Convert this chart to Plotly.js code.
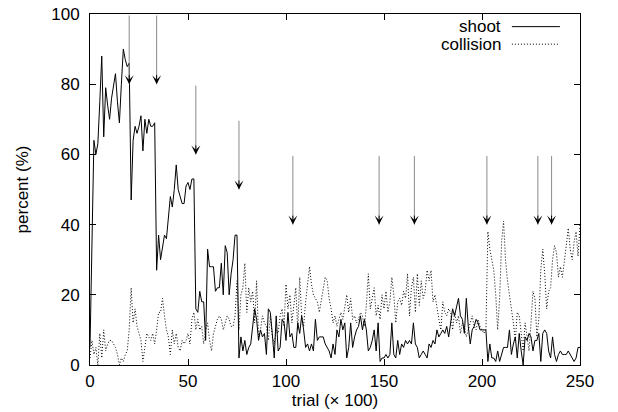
<!DOCTYPE html>
<html>
<head>
<meta charset="utf-8">
<script src="https://cdn.plot.ly/plotly-3.0.1.min.js"></script>
<style>html,body{margin:0;padding:0;background:#fff;}#chart{width:618px;height:412px;}</style>
</head>
<body>
<div id="chart"></div>
<script>
// trial index (x 100), one sample per 100 trials
var trialStart = 0;
var trialCount = 251;

var shoot = [
  5, 35, 64, 60, 63, 75, 88, 65, 79, 74,
  70, 76, 79, 83, 75, 69, 80, 90, 87, 85,
  86, 47, 64, 68, 66, 68, 71, 61, 70, 66,
  70, 68, 68, 69, 27, 37, 30, 33, 37, 36,
  42, 48, 45, 50, 57, 50, 48, 46, 46, 51,
  52, 50, 53, 53, 16, 15, 21, 18, 18, 7,
  33, 28, 28, 28, 21, 22, 22, 29, 20, 34,
  32, 20, 26, 30, 37, 37, 2, 8, 4, 7,
  3, 5, 6, 12, 16, 13, 7, 10, 8, 9,
  3, 16, 15, 9, 2, 14, 4, 5, 13, 12,
  7, 15, 8, 9, 5, 5, 12, 9, 14, 10,
  5, 6, 4, 6, 4, 13, 7, 8, 8, 8,
  6, 5, 4, 2, 6, 3, 10, 8, 13, 10,
  12, 2, 5, 12, 5, 8, 10, 11, 14, 10,
  13, 10, 4, 5, 7, 10, 4, 12, 1, 2,
  2, 3, 2, 3, 12, 3, 2, 7, 3, 6,
  5, 7, 6, 7, 6, 12, 6, 5, 2, 3,
  4, 3, 2, 6, 5, 7, 6, 10, 8, 9,
  10, 9, 11, 8, 12, 16, 14, 17, 19, 14,
  13, 9, 19, 11, 6, 10, 11, 13, 12, 10,
  10, 10, 10, 1, 6, 2, 2, 1, 4, 1,
  3, 5, 5, 5, 10, 3, 6, 8, 2, 9,
  4, 0, 8, 7, 9, 8, 4, 7, 7, 9,
  1, 9, 10, 9, 4, 2, 8, 3, 1, 3,
  4, 3, 3, 3, 4, 3, 2, 1, 2, 5,
  5
];

var collision = [
  2, 7, 3, 5, 0, 9, 2, 10, 4, 6,
  7, 7, 6, 5, 3, 0, 2, 1, 3, 4,
  10, 22, 12, 16, 11, 9, 7, 1, 5, 9,
  8, 7, 9, 6, 10, 15, 15, 19, 14, 10,
  8, 3, 10, 6, 9, 5, 4, 7, 6, 7,
  9, 6, 13, 15, 10, 13, 10, 11, 6, 10,
  12, 7, 4, 9, 11, 13, 14, 13, 10, 12,
  14, 13, 11, 11, 14, 24, 10, 20, 22, 29,
  15, 22, 18, 21, 12, 24, 8, 10, 14, 12,
  11, 7, 14, 8, 6, 10, 9, 14, 16, 11,
  23, 16, 20, 12, 18, 22, 10, 25, 14, 11,
  18, 24, 28, 23, 20, 19, 18, 15, 18, 21,
  25, 24, 19, 16, 12, 14, 11, 13, 15, 13,
  17, 20, 15, 19, 13, 14, 12, 13, 15, 14,
  11, 17, 26, 16, 19, 22, 14, 17, 13, 20,
  16, 21, 15, 18, 25, 20, 12, 18, 19, 17,
  21, 19, 26, 14, 22, 25, 15, 26, 17, 24,
  19, 21, 27, 24, 27, 18, 20, 16, 13, 10,
  18, 15, 14, 16, 15, 10, 15, 12, 14, 9,
  12, 11, 8, 10, 12, 14, 11, 10, 13, 11,
  10, 9, 10, 38, 33, 30, 27, 20, 10, 19,
  35, 41, 30, 24, 20, 17, 12, 7, 15, 14,
  9, 4, 12, 8, 4, 12, 21, 19, 8, 13,
  27, 33, 26, 16, 21, 22, 30, 34, 32, 25,
  28, 25, 29, 34, 39, 33, 30, 35, 38, 31,
  40
];

// event arrows: x position, arrow tip value, arrow tail value
var arrowX    = [20, 34, 54, 76, 103.5, 147.5, 165.5, 202.5, 228.5, 235.5];
var arrowTip  = [80, 80, 60, 50, 40, 40, 40, 40, 40, 40];
var arrowTail = [100, 100, 80, 70, 60, 60, 60, 60, 60, 60];

var seriesNames = ["shoot", "collision"];
var xTicks = [0, 50, 100, 150, 200, 250];
var yTicks = [0, 20, 40, 60, 80, 100];

var trials = [];
for (var i = 0; i < trialCount; i++) trials.push(trialStart + i);

var FONT = "Liberation Sans, Arial, sans-serif";
var DOT = "1px,2px";

var traces = [
  {x: trials, y: shoot, type: "scatter", mode: "lines", name: seriesNames[0],
   line: {color: "#000", width: 1, dash: "solid"}},
  {x: trials, y: collision, type: "scatter", mode: "lines", name: seriesNames[1],
   line: {color: "#000", width: 1, dash: DOT}}
];

var annotations = [];
for (var k = 0; k < arrowX.length; k++) {
  annotations.push({x: arrowX[k], y: arrowTip[k], ax: arrowX[k], ay: arrowTail[k],
    xref: "x", yref: "y", axref: "x", ayref: "y", text: "", showarrow: true,
    arrowhead: 0, arrowwidth: 1, arrowcolor: "#8a8a8a"});
  annotations.push({x: arrowX[k], y: arrowTip[k], ax: arrowX[k], ay: arrowTip[k] + 3,
    xref: "x", yref: "y", axref: "x", ayref: "y", text: "", showarrow: true,
    arrowhead: 3, arrowsize: 1.5, arrowwidth: 1, arrowcolor: "#000"});
}
// legend (gnuplot style: text right-aligned, sample to the right)
annotations.push({xref: "paper", yref: "paper", x: 0.842, y: 0.964, xanchor: "right", yanchor: "middle",
  text: seriesNames[0], showarrow: false, font: {family: FONT, size: 17, color: "#000"}});
annotations.push({xref: "paper", yref: "paper", x: 0.842, y: 0.914, xanchor: "right", yanchor: "middle",
  text: seriesNames[1], showarrow: false, font: {family: FONT, size: 17, color: "#000"}});

var shapes = [
  {type: "line", xref: "paper", yref: "paper", x0: 0.861, x1: 0.959, y0: 0.964, y1: 0.964,
   line: {color: "#000", width: 1}},
  {type: "line", xref: "paper", yref: "paper", x0: 0.861, x1: 0.959, y0: 0.914, y1: 0.914,
   line: {color: "#000", width: 1, dash: DOT}}
];

var layout = {
  width: 618, height: 412,
  margin: {l: 90, r: 38, t: 14, b: 47, pad: 0},
  paper_bgcolor: "#fff", plot_bgcolor: "#fff",
  showlegend: false,
  font: {family: FONT, size: 17, color: "#000"},
  xaxis: {
    range: [0, 250], tickvals: xTicks, ticks: "inside", ticklen: 6, tickcolor: "#000",
    showline: true, mirror: "ticks", linecolor: "#000", linewidth: 1,
    showgrid: false, zeroline: false, automargin: false, ticklabelstandoff: 1,
    tickfont: {family: FONT, size: 17, color: "#000"},
    title: {text: "trial (\u00d7 100)", font: {family: FONT, size: 17, color: "#000"}, standoff: 0}
  },
  yaxis: {
    range: [0, 100], tickvals: yTicks, ticks: "inside", ticklen: 6, tickcolor: "#000",
    showline: true, mirror: "ticks", linecolor: "#000", linewidth: 1,
    showgrid: false, zeroline: false, automargin: false, ticklabelstandoff: 6,
    tickfont: {family: FONT, size: 17, color: "#000"},
    title: {text: "percent (%)", font: {family: FONT, size: 17, color: "#000"}, standoff: 18}
  },
  annotations: annotations,
  shapes: shapes
};

Plotly.newPlot("chart", traces, layout, {staticPlot: true, displayModeBar: false});
</script>
</body>
</html>
